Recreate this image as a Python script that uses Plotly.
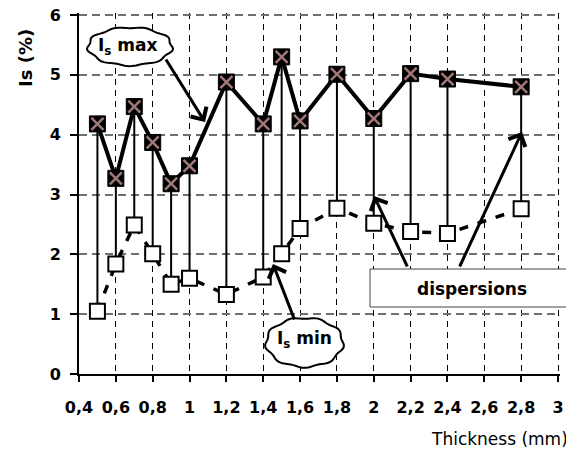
import numpy as np
import plotly.graph_objects as go

# ---------------- data ----------------
thickness = [0.5, 0.6, 0.7, 0.8, 0.9, 1.0, 1.2, 1.4, 1.5, 1.6, 1.8, 2.0, 2.2, 2.4, 2.8]
is_max = [4.18, 3.27, 4.47, 3.87, 3.18, 3.48, 4.88, 4.18, 5.30, 4.23, 5.01, 4.27, 5.02, 4.93, 4.80]
is_min = [1.05, 1.84, 2.49, 2.01, 1.50, 1.60, 1.33, 1.62, 2.01, 2.43, 2.77, 2.52, 2.38, 2.35, 2.76]

x_tickvals = [0.4, 0.6, 0.8, 1.0, 1.2, 1.4, 1.6, 1.8, 2.0, 2.2, 2.4, 2.6, 2.8, 3.0]
x_ticktext = ["0,4", "0,6", "0,8", "1", "1,2", "1,4", "1,6", "1,8", "2", "2,2", "2,4", "2,6", "2,8", "3"]
y_tickvals = [0, 1, 2, 3, 4, 5, 6]

# ---------------- layout geometry ----------------
# page body has an 8px margin, so the figure is offset by 8px on screen
OFF = 8
SW, SH = 574, 452               # screen size
W, H = SW - OFF, SH - OFF       # figure size
# where the nominal axis ends land on screen
X0_PIX, X1_PIX, XLO, XHI = 79, 558, 0.4, 3.0
Y0_PIX, Y1_PIX, YLO, YHI = 374, 15, 0.0, 6.0
# plot area slightly larger so that the end grid lines are kept
PL, PR, PT, PB = 79, 560, 13, 374
ML, MR, MT, MB = PL - OFF, SW - PR, PT - OFF, SH - PB
PW, PH = PR - PL, PB - PT

x_range = [XLO, XLO + (XHI - XLO) * (PR - X0_PIX) / (X1_PIX - X0_PIX)]
y_range = [YLO, YLO + (YHI - YLO) * (Y0_PIX - PT) / (Y0_PIX - Y1_PIX)]


def px(xs):
    return (xs - PL) / PW


def py(ys):
    return (PB - ys) / PH


FONT = "DejaVu Sans"

fig = go.Figure()

# vertical dispersion lines (max -> min)
vx, vy = [], []
for t, a, b in zip(thickness, is_max, is_min):
    vx += [t, t, None]
    vy += [a, b, None]
fig.add_trace(go.Scatter(x=vx, y=vy, mode="lines",
                         line=dict(color="black", width=2), hoverinfo="skip"))

# min series (dashed)
fig.add_trace(go.Scatter(x=thickness, y=is_min, mode="lines",
                         line=dict(color="black", width=3.5, dash="9px,10px")))
fig.add_trace(go.Scatter(x=thickness, y=is_min, mode="markers",
                         marker=dict(symbol="square", size=15, color="white",
                                     line=dict(color="black", width=2))))

# max series
fig.add_trace(go.Scatter(x=thickness, y=is_max, mode="lines",
                         line=dict(color="black", width=4)))
fig.add_trace(go.Scatter(x=thickness, y=is_max, mode="markers",
                         marker=dict(symbol="square", size=16, color="black",
                                     line=dict(color="black", width=1))))
fig.add_trace(go.Scatter(x=thickness, y=is_max, mode="markers",
                         marker=dict(symbol="x-thin", size=12,
                                     line=dict(color="#a07878", width=2.5))))


# ---------------- clouds ----------------
def cloud_path(cx, cy, rx, ry, n=120):
    th = np.linspace(0, 2 * np.pi, n)
    r = 1 + 0.035 * np.sin(9 * th)
    xs = cx + rx * r * np.cos(th)
    ys = cy + ry * r * np.sin(th)
    pts = [f"{px(a):.5f},{py(b):.5f}" for a, b in zip(xs, ys)]
    return "M" + " L".join(pts) + " Z"


shapes = [
    dict(type="path", xref="paper", yref="paper", path=cloud_path(130, 46.5, 42, 19),
         line=dict(color="black", width=2), fillcolor="white", layer="above"),
    dict(type="path", xref="paper", yref="paper", path=cloud_path(304.5, 342.5, 38.5, 24.5),
         line=dict(color="black", width=2), fillcolor="white", layer="above"),
    dict(type="rect", xref="paper", yref="paper", x0=px(370), x1=px(571), y0=py(307), y1=py(269),
         line=dict(color="#444", width=1), fillcolor="white", layer="above"),
]

annotations = []
# arrows: (tail_x, tail_y, head_x, head_y) in screen pixels
arrows = [(165, 58, 205, 122), (295, 321, 273, 264), (408, 268, 374, 196), (459, 268, 522, 132)]
for tx, ty, hx, hy in arrows:
    annotations.append(dict(xref="paper", yref="paper", x=px(hx), y=py(hy),
                            ax=tx - hx, ay=ty - hy, showarrow=True, text="",
                            arrowhead=4, arrowsize=1.2, arrowwidth=3, arrowcolor="black"))

bold = dict(family=FONT, size=17, color="black", weight="bold")


def label(xs, ys, text, font, angle=0):
    return dict(xref="paper", yref="paper", x=px(xs), y=py(ys), text=text,
                xanchor="center", yanchor="middle", textangle=angle,
                showarrow=False, font=font)


annotations += [
    label(128, 47, "I<sub>s</sub> max", bold),
    label(304, 339, "I<sub>s</sub> min", bold),
    label(472, 289, "dispersions", bold),
    label(25, 58, "Is (%)", dict(family=FONT, size=18, color="black", weight="bold"), -90),
    label(499, 439, "Thickness (mm)", dict(family=FONT, size=17, color="black")),
]

fig.update_layout(
    width=W, height=H,
    margin=dict(l=ML, r=MR, t=MT, b=MB, autoexpand=False),
    paper_bgcolor="white", plot_bgcolor="white",
    showlegend=False,
    shapes=shapes, annotations=annotations,
    xaxis=dict(range=x_range, tickvals=x_tickvals, ticktext=x_ticktext,
               automargin=False, ticklabeloverflow="allow",
               showline=True, linecolor="black", linewidth=2,
               ticks="outside", ticklen=6, tickwidth=2, tickcolor="black",
               ticklabelstandoff=12,
               tickfont=dict(family=FONT, size=16, color="black", weight="bold"),
               showgrid=True, gridcolor="black", gridwidth=1, griddash="6px,5px",
               zeroline=False),
    yaxis=dict(range=y_range, tickvals=y_tickvals,
               automargin=False, ticklabeloverflow="allow",
               showline=True, linecolor="black", linewidth=2,
               ticks="outside", ticklen=7, tickwidth=2, tickcolor="black",
               ticklabelstandoff=6,
               tickfont=dict(family=FONT, size=16, color="black", weight="bold"),
               showgrid=True, gridcolor="#707070", gridwidth=1.5, griddash="8px,5px",
               zeroline=False),
)

fig.write_html("out.html")
